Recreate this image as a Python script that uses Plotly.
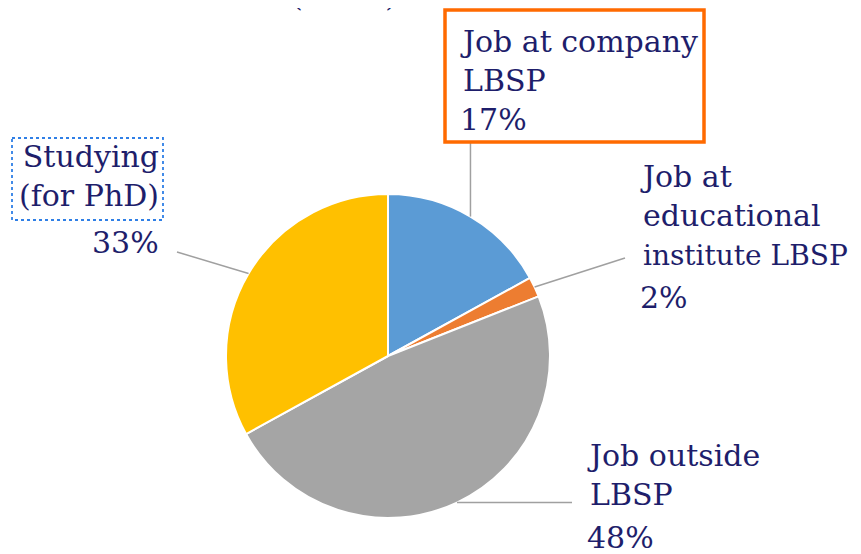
import math
import plotly.graph_objects as go

# ---- data ----
categories = ["Job at company LBSP", "Job at educational institute LBSP",
              "Job outside LBSP", "Studying (for PhD)"]
label_lines = [["Job at company", "LBSP"],
               ["Job at", "educational", "institute LBSP"],
               ["Job outside", "LBSP"],
               ["Studying", "(for PhD)"]]
values = [17, 2, 48, 33]
colors = ["#5B9BD5", "#ED7D31", "#A5A5A5", "#FFC000"]
title_fragment = "(n=94)"

W, H = 861, 554
OFF = 8                      # page offset of the plot div
CX, CY, R = 388, 356, 162    # pie centre / radius (screen px)
FONT = "DejaVu Serif"
TXT = "#1E1E6B"
FS = 30


def px(x):
    return (x - OFF) / W


def py(y):
    return 1 - (y - OFF) / H


fig = go.Figure(go.Pie(
    labels=categories, values=values, sort=False, direction="clockwise",
    rotation=0, textinfo="none", hoverinfo="label+percent",
    marker=dict(colors=colors, line=dict(color="white", width=2)),
    domain=dict(x=[px(CX - R), px(CX + R)], y=[py(CY + R), py(CY - R)]),
))

# edge points at slice mid-angles, computed from values
total = sum(values)
edge = []
cum = 0
for v in values:
    mid = (cum + v / 2) / total * 2 * math.pi
    cum += v
    edge.append((CX + R * math.sin(mid), CY - R * math.cos(mid)))

# label placements (screen px): x, name-top, pct-top, anchor, long-line size
label_pos = [
    dict(x=458, y=22, yp=100, xanchor="left", long_fs=None),
    dict(x=638, y=157, yp=278, xanchor="left", long_fs=28),
    dict(x=585, y=436, yp=518, xanchor="left", long_fs=None),
    dict(x=161, y=137, yp=223, xanchor="right", long_fs=None),
]
line_ends = [
    (edge[0][0], 142),
    (625, 258),
    (572, edge[2][1]),
    (177, 252),
]


def fit(line, size):
    # long lines near the canvas edge are set a touch narrower
    if size and len(line) > 13:
        return f'<span style="font-size:{size}px">{line}</span>'
    return line


annotations = []
shapes = []
for i, (lines, v) in enumerate(zip(label_lines, values)):
    lp = label_pos[i]
    name = "<br>".join(fit(l, lp["long_fs"]) for l in lines)
    for txt, yy in ((name, lp["y"]), (f"{v}%", lp["yp"])):
        annotations.append(dict(
            text=txt, x=px(lp["x"]), y=py(yy), xref="paper", yref="paper",
            xanchor=lp["xanchor"], yanchor="top", align=lp["xanchor"],
            showarrow=False, font=dict(family=FONT, size=FS, color=TXT)))
    ex, ey = edge[i]
    lx, ly = line_ends[i]
    shapes.append(dict(type="line", xref="paper", yref="paper",
                       x0=px(ex), y0=py(ey), x1=px(lx), y1=py(ly),
                       line=dict(color="#A0A0A0", width=1.5)))

# highlighted label boxes
shapes.append(dict(type="rect", xref="paper", yref="paper",
                   x0=px(445), x1=px(704), y0=py(10), y1=py(142),
                   line=dict(color="#FF6A00", width=3.5)))
shapes.append(dict(type="rect", xref="paper", yref="paper",
                   x0=px(12), x1=px(163), y0=py(138), y1=py(220),
                   line=dict(color="#2F7FE6", width=1.8, dash="dot")))

# cut-off title fragment at the top
annotations.append(dict(
    text=title_fragment, x=px(399), y=py(15), xref="paper", yref="paper",
    xanchor="right", yanchor="bottom", showarrow=False,
    font=dict(family=FONT, size=FS, color=TXT)))

fig.update_layout(
    width=W, height=H, margin=dict(l=0, r=0, t=0, b=0),
    paper_bgcolor="white", plot_bgcolor="white", showlegend=False,
    annotations=annotations, shapes=shapes,
)

fig.write_html("out.html")
